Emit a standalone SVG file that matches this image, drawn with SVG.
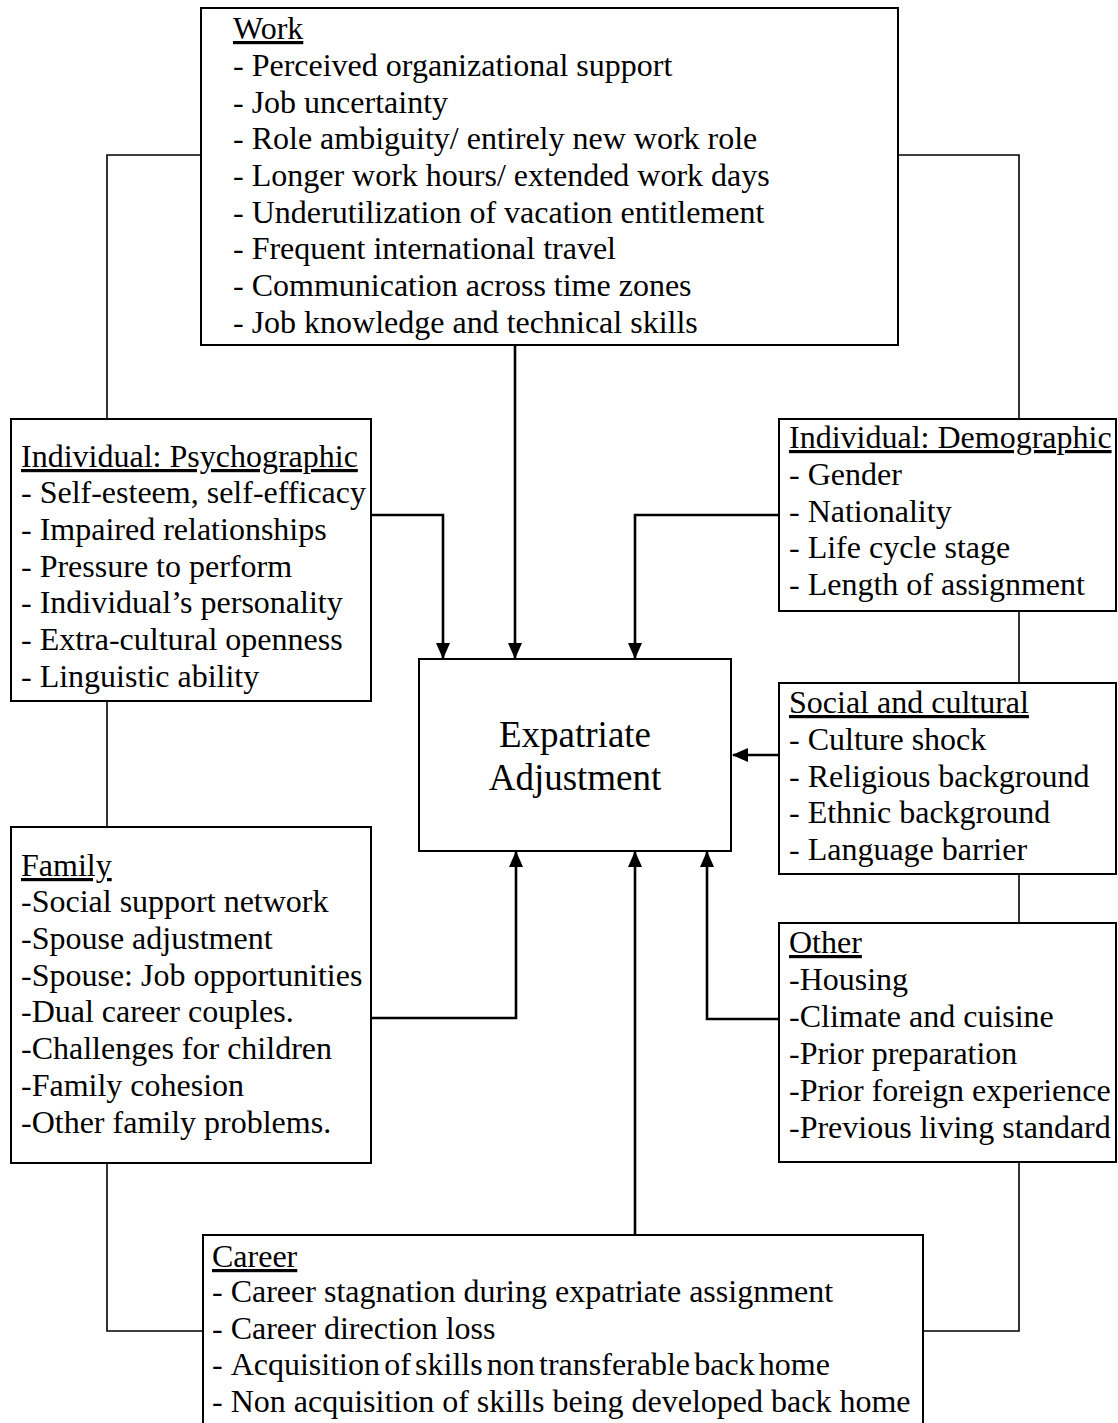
<svg xmlns="http://www.w3.org/2000/svg" width="1118" height="1423" viewBox="0 0 1118 1423">
<defs>
<style>
.box{fill:#fff;stroke:#000;stroke-width:2}
.t{font-family:"Liberation Serif","Times New Roman",serif;font-size:32px;fill:#000}
.h{text-decoration:underline}
.c{font-family:"Liberation Serif","Times New Roman",serif;font-size:37px;fill:#000;text-anchor:middle}
.ln{fill:none;stroke:#000;stroke-width:1.6}
.ar{fill:none;stroke:#000;stroke-width:2.6}
</style>
<marker id="ah" markerUnits="userSpaceOnUse" markerWidth="16" markerHeight="16" viewBox="0 0 16 14" refX="15" refY="7" orient="auto">
<path d="M0,0 L16,7 L0,14 Z" fill="#000"/>
</marker>
</defs>
<rect width="1118" height="1423" fill="#fff"/>
<g id="connectors">
<polyline class="ln" points="201,155 107,155 107,419"/>
<polyline class="ln" points="898,155 1019,155 1019,419"/>
<line class="ln" x1="107" y1="701" x2="107" y2="827"/>
<line class="ln" x1="1019" y1="611" x2="1019" y2="683"/>
<line class="ln" x1="1019" y1="874" x2="1019" y2="923"/>
<polyline class="ln" points="107,1163 107,1331 203,1331"/>
<polyline class="ln" points="1019,1162 1019,1331 923,1331"/>
<polyline class="ar" points="371,515 443,515 443,658" marker-end="url(#ah)"/>
<line class="ar" x1="515" y1="345" x2="515" y2="658" marker-end="url(#ah)"/>
<polyline class="ar" points="779,515 635,515 635,658" marker-end="url(#ah)"/>
<line class="ar" x1="779" y1="755" x2="733" y2="755" marker-end="url(#ah)"/>
<polyline class="ar" points="371,1018 516,1018 516,852" marker-end="url(#ah)"/>
<line class="ar" x1="635" y1="1235" x2="635" y2="852" marker-end="url(#ah)"/>
<polyline class="ar" points="779,1019 707,1019 707,852" marker-end="url(#ah)"/>
</g>
<g id="work">
<rect class="box" x="201" y="8" width="697" height="337"/>
<text class="t" x="233" y="39"><tspan class="h">Work</tspan></text>
<text class="t" x="233" y="76">- Perceived organizational support</text>
<text class="t" x="233" y="113">- Job uncertainty</text>
<text class="t" x="233" y="149">- Role ambiguity/ entirely new work role</text>
<text class="t" x="233" y="186">- Longer work hours/ extended work days</text>
<text class="t" x="233" y="223">- Underutilization of vacation entitlement</text>
<text class="t" x="233" y="259">- Frequent international travel</text>
<text class="t" x="233" y="296">- Communication across time zones</text>
<text class="t" x="233" y="333">- Job knowledge and technical skills</text>
</g>
<g id="psychographic">
<rect class="box" x="11" y="419" width="360" height="282"/>
<text class="t" x="21" y="467"><tspan class="h">Individual: Psychographic</tspan></text>
<text class="t" x="21" y="503">- Self-esteem, self-efficacy</text>
<text class="t" x="21" y="540">- Impaired relationships</text>
<text class="t" x="21" y="577">- Pressure to perform</text>
<text class="t" x="21" y="613">- Individual’s personality</text>
<text class="t" x="21" y="650">- Extra-cultural openness</text>
<text class="t" x="21" y="687">- Linguistic ability</text>
</g>
<g id="demographic">
<rect class="box" x="779" y="419" width="337" height="192"/>
<text class="t" x="789" y="448"><tspan class="h">Individual: Demographic</tspan></text>
<text class="t" x="789" y="485">- Gender</text>
<text class="t" x="789" y="522">- Nationality</text>
<text class="t" x="789" y="558">- Life cycle stage</text>
<text class="t" x="789" y="595">- Length of assignment</text>
</g>
<g id="center">
<rect class="box" x="419" y="659" width="312" height="192"/>
<text class="c" x="575" y="747">Expatriate</text>
<text class="c" x="575" y="790">Adjustment</text>
</g>
<g id="social">
<rect class="box" x="779" y="683" width="337" height="191"/>
<text class="t" x="789" y="713"><tspan class="h">Social and cultural</tspan></text>
<text class="t" x="789" y="750">- Culture shock</text>
<text class="t" x="789" y="787">- Religious background</text>
<text class="t" x="789" y="823">- Ethnic background</text>
<text class="t" x="789" y="860">- Language barrier</text>
</g>
<g id="family">
<rect class="box" x="11" y="827" width="360" height="336"/>
<text class="t" x="21" y="876"><tspan class="h">Family</tspan></text>
<text class="t" x="21" y="912">-Social support network</text>
<text class="t" x="21" y="949">-Spouse adjustment</text>
<text class="t" x="21" y="986">-Spouse: Job opportunities</text>
<text class="t" x="21" y="1022">-Dual career couples.</text>
<text class="t" x="21" y="1059">-Challenges for children</text>
<text class="t" x="21" y="1096">-Family cohesion</text>
<text class="t" x="21" y="1133">-Other family problems.</text>
</g>
<g id="other">
<rect class="box" x="779" y="923" width="337" height="239"/>
<text class="t" x="789" y="953"><tspan class="h">Other</tspan></text>
<text class="t" x="789" y="990">-Housing</text>
<text class="t" x="789" y="1027">-Climate and cuisine</text>
<text class="t" x="789" y="1064">-Prior preparation</text>
<text class="t" x="789" y="1101">-Prior foreign experience</text>
<text class="t" x="789" y="1138">-Previous living standard</text>
</g>
<g id="career">
<rect class="box" x="203" y="1235" width="720" height="200"/>
<text class="t" x="212" y="1267"><tspan class="h">Career</tspan></text>
<text class="t" x="212" y="1302">- Career stagnation during expatriate assignment</text>
<text class="t" x="212" y="1339">- Career direction loss</text>
<text class="t" x="212" y="1375">- <tspan word-spacing="-3.8">Acquisition of skills non transferable back home</tspan></text>
<text class="t" x="212" y="1412">- Non acquisition of skills being developed back home</text>
</g>
</svg>
